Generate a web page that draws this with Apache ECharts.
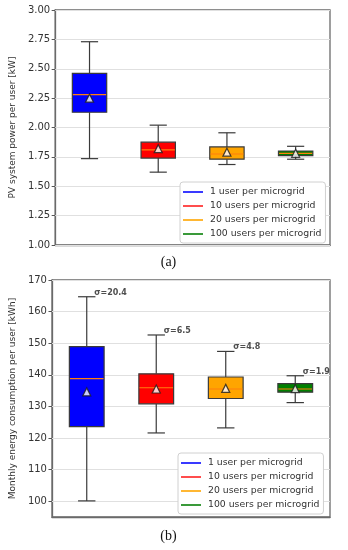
<!DOCTYPE html>
<html>
<head>
<meta charset="utf-8">
<script src="https://cdn.jsdelivr.net/npm/echarts@6/dist/echarts.min.js"></script>
<style>html,body{margin:0;padding:0;background:#fff}#c{width:348px;height:550px}</style>
</head>
<body>
<div id="c"></div>
<script>
// ---------- data ----------
const categories = ['1 user per microgrid', '10 users per microgrid', '20 users per microgrid', '100 users per microgrid'];
const boxColors = ['#0000ff', '#ff0000', '#ffa500', '#008000'];
const legendColors = ['#3a3aff', '#ff4d4d', '#ffb733', '#3a9a3a'];
// [low whisker, Q1, median, Q3, high whisker]
const pvBoxes = [
  [1.735, 2.13, 2.28, 2.46, 2.73],
  [1.62, 1.74, 1.81, 1.875, 2.02],
  [1.685, 1.73, 1.775, 1.835, 1.955],
  [1.73, 1.76, 1.78, 1.80, 1.84]
];
const pvMeans = [2.25, 1.82, 1.79, 1.78];
const energyBoxes = [
  [100.1, 123.6, 138.8, 148.9, 164.7],
  [121.6, 130.8, 135.9, 140.3, 152.6],
  [123.2, 132.5, 135.5, 139.3, 147.4],
  [131.2, 134.5, 135.5, 137.2, 139.7]
];
const energyMeans = [134.6, 135.5, 135.7, 135.6];
const sigmaLabels = ['σ=20.4', 'σ=6.5', 'σ=4.8', 'σ=1.9'];
const pvTicks = [1.00, 1.25, 1.50, 1.75, 2.00, 2.25, 2.50, 2.75, 3.00];
const energyTicks = [100, 110, 120, 130, 140, 150, 160, 170];

// ---------- helpers ----------
const FONT = 'DejaVu Sans';
function boxRender(params, api) {
  const i = api.value(0);
  const band = api.size([1, 0])[0];
  const bw = band * 0.5, cw = bw * 0.5;
  const pLow = api.coord([i, api.value(1)]);
  const pQ1 = api.coord([i, api.value(2)]);
  const pMed = api.coord([i, api.value(3)]);
  const pQ3 = api.coord([i, api.value(4)]);
  const pHigh = api.coord([i, api.value(5)]);
  const x = pQ1[0];
  const lineStyle = { stroke: '#3a3a3a', lineWidth: 1.2 };
  return {
    type: 'group',
    children: [
      { type: 'line', shape: { x1: x, y1: pQ3[1], x2: x, y2: pHigh[1] }, style: lineStyle },
      { type: 'line', shape: { x1: x, y1: pQ1[1], x2: x, y2: pLow[1] }, style: lineStyle },
      { type: 'line', shape: { x1: x - cw / 2, y1: pHigh[1], x2: x + cw / 2, y2: pHigh[1] }, style: lineStyle },
      { type: 'line', shape: { x1: x - cw / 2, y1: pLow[1], x2: x + cw / 2, y2: pLow[1] }, style: lineStyle },
      { type: 'rect', shape: { x: x - bw / 2, y: pQ3[1], width: bw, height: pQ1[1] - pQ3[1] },
        style: { fill: boxColors[params.dataIndex], stroke: '#3a3a3a', lineWidth: 1.2 } },
      { type: 'line', shape: { x1: x - bw / 2 + 0.6, y1: pMed[1], x2: x + bw / 2 - 0.6, y2: pMed[1] },
        style: { stroke: '#ff7f0e', lineWidth: 1.1 } }
    ]
  };
}
function boxData(arr) { return arr.map((b, i) => [i].concat(b)); }

const axisLabelStyle = { fontFamily: FONT, fontSize: 10, color: '#333', margin: 5 };

const series = [];
function addPanel(idx, boxes, means, ticks) {
  const gridLines = ticks.map(v => ({ yAxis: v }));
  series.push({
    type: 'custom', xAxisIndex: idx, yAxisIndex: idx,
    renderItem: boxRender, data: boxData(boxes), z: 3,
    encode: { x: 0, y: [1, 2, 3, 4, 5] },
    markLine: {
      silent: true, symbol: ['none', 'none'], label: { show: false },
      lineStyle: { color: '#e0e0e0', width: 1, type: 'solid' }, data: gridLines, z: 1
    }
  });
  series.push({
    type: 'scatter', xAxisIndex: idx, yAxisIndex: idx, z: 5,
    symbol: 'triangle', symbolSize: 8,
    itemStyle: { color: '#ffffff', borderColor: '#1a1a1a', borderWidth: 1.2 },
    data: means.map((m, i) => [i, m])
  });
}
addPanel(0, pvBoxes, pvMeans, pvTicks);
addPanel(1, energyBoxes, energyMeans, energyTicks);

// sigma annotations on the lower panel
series.push({
  type: 'scatter', xAxisIndex: 1, yAxisIndex: 1, z: 6,
  symbolSize: 1, itemStyle: { color: 'rgba(0,0,0,0)' },
  data: energyBoxes.map((b, i) => [i, b[4]]),
  label: {
    show: true, position: 'right', distance: 7, offset: [0, -4],
    formatter: p => sigmaLabels[p.dataIndex],
    fontFamily: FONT, fontSize: 8, fontWeight: 'bold', color: '#222'
  }
});

// dummy series for legends
categories.forEach((name, i) => {
  series.push({ type: 'line', name: name, xAxisIndex: 0, yAxisIndex: 0, data: [],
    color: legendColors[i], lineStyle: { color: legendColors[i] } });
});

function legendAt(left, top) {
  return {
    orient: 'vertical', left: left, top: top,
    data: categories.map(n => ({ name: n, icon: 'rect' })),
    itemWidth: 20, itemHeight: 2, itemGap: 2,
    padding: [4, 4, 3, 3],
    backgroundColor: '#fff', borderColor: '#d0d0d0', borderWidth: 1, borderRadius: 3,
    selectedMode: false,
    textStyle: { fontFamily: FONT, fontSize: 9.3, color: '#333', lineHeight: 12, padding: [0, 0, 0, 2] }
  };
}

const option = {
  animation: false,
  backgroundColor: '#fff',
  grid: [
    { left: 44, top: 10, width: 286, height: 235, show: true, borderColor: '#6a6a6a', borderWidth: 1.3, backgroundColor: 'transparent' },
    { left: 42, top: 280, width: 288, height: 237, show: true, borderColor: '#6a6a6a', borderWidth: 1.3, backgroundColor: 'transparent' }
  ],
  xAxis: [
    { type: 'category', gridIndex: 0, data: categories, boundaryGap: true,
      axisLine: { show: true, lineStyle: { color: '#6a6a6a', width: 1.3 } },
      axisTick: { show: false }, axisLabel: { show: false }, splitLine: { show: false } },
    { type: 'category', gridIndex: 1, data: categories, boundaryGap: true,
      axisLine: { show: true, lineStyle: { color: '#6a6a6a', width: 1.3 } },
      axisTick: { show: false }, axisLabel: { show: false }, splitLine: { show: false } }
  ],
  yAxis: [
    { type: 'value', gridIndex: 0, min: 1, max: 3, interval: 0.25,
      name: 'PV system power per user [kW]', nameLocation: 'middle', nameGap: 29,
      nameTextStyle: { fontFamily: FONT, fontSize: 9, color: '#333' },
      axisLine: { show: true, lineStyle: { color: '#6a6a6a', width: 1.3 } },
      axisTick: { show: true, length: 3.5, lineStyle: { color: '#555' } },
      axisLabel: Object.assign({}, axisLabelStyle, { formatter: v => v.toFixed(2) }),
      splitLine: { show: false } },
    { type: 'value', gridIndex: 1, min: 95, max: 170,
      name: 'Monthly energy consumption per user [kWh]', nameLocation: 'middle', nameGap: 27,
      nameTextStyle: { fontFamily: FONT, fontSize: 9, color: '#333' },
      axisLine: { show: true, lineStyle: { color: '#6a6a6a', width: 1.3 } },
      axisTick: { show: true, length: 3.5, lineStyle: { color: '#555' }, customValues: energyTicks },
      axisLabel: Object.assign({}, axisLabelStyle, { customValues: energyTicks }),
      splitLine: { show: false } }
  ],
  legend: [legendAt(180, 182), legendAt(178, 453)],
  graphic: [
    { type: 'text', x: 168.5, y: 262, style: { text: '(a)', font: '14px "Liberation Serif"', fill: '#111', textAlign: 'center', textVerticalAlign: 'middle' } },
    { type: 'text', x: 168.5, y: 536, style: { text: '(b)', font: '14px "Liberation Serif"', fill: '#111', textAlign: 'center', textVerticalAlign: 'middle' } }
  ],
  series: series
};

const chart = echarts.init(document.getElementById('c'), null, { renderer: 'canvas' });
chart.setOption(option);
</script>
</body>
</html>
